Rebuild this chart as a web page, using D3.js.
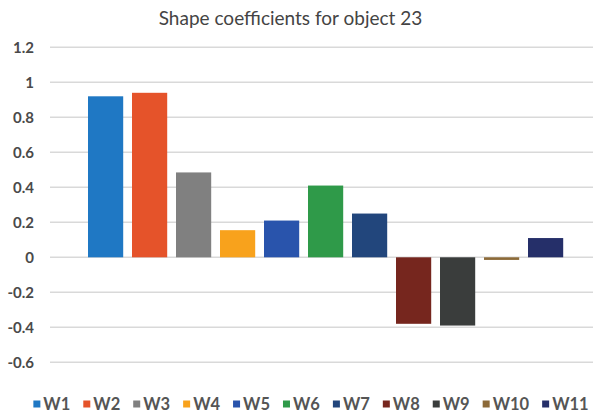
<!DOCTYPE html>
<html>
<head>
<meta charset="utf-8">
<script src="https://cdn.jsdelivr.net/npm/d3@7"></script>
<style>
  html, body { margin: 0; padding: 0; background: #ffffff; }
  svg { display: block; }
</style>
</head>
<body>
<svg id="chart" width="593" height="415"></svg>
<script>
const categories = ["W1", "W2", "W3", "W4", "W5", "W6", "W7", "W8", "W9", "W10", "W11"];
const values = [0.92, 0.94, 0.485, 0.155, 0.21, 0.41, 0.25, -0.38, -0.39, -0.015, 0.11];
const colors = ["#1f78c4", "#e5532a", "#808080", "#f8a21c", "#2954ac", "#2f9a49", "#22467c", "#76261e", "#3a3d3c", "#8c6a38", "#252f69"];
const yTicks = [1.2, 1, 0.8, 0.6, 0.4, 0.2, 0, -0.2, -0.4, -0.6];
const titleText = "Shape coefficients for object 23";

const svg = d3.select("#chart");
const W = 593, H = 415;
const FONT = "Lato, 'Open Sans', 'Liberation Sans', sans-serif";

svg.append("rect").attr("width", W).attr("height", H).attr("fill", "#fff");

const y = d3.scaleLinear().domain([-0.6, 1.2]).range([362.3, 47.3]);
const x = d3.scaleBand().domain(categories).range([83.6, 567.6]).paddingInner(0.2).paddingOuter(0.1);

// gridlines
svg.append("g")
  .selectAll("line")
  .data(yTicks)
  .join("line")
  .attr("x1", 50).attr("x2", W)
  .attr("y1", d => y(d)).attr("y2", d => y(d))
  .attr("stroke", "#d9d9d9")
  .attr("stroke-width", 1.5);

// y axis labels
const yAxis = d3.axisLeft(y).tickValues(yTicks).tickSize(0).tickPadding(0).tickFormat(d => String(d));
const gy = svg.append("g").attr("transform", "translate(34,0)").call(yAxis);
gy.select(".domain").remove();
gy.selectAll("text")
  .attr("font-family", FONT)
  .attr("font-size", 15)
  .attr("font-weight", 700)
  .attr("fill", "#4a4a4a")
  .attr("dy", "0.35em");

// bars
svg.append("g")
  .selectAll("rect")
  .data(categories)
  .join("rect")
  .attr("x", d => x(d))
  .attr("width", x.bandwidth())
  .attr("y", (d, i) => Math.min(y(values[i]), y(0)))
  .attr("height", (d, i) => Math.abs(y(values[i]) - y(0)))
  .attr("fill", (d, i) => colors[i]);

// title
svg.append("text")
  .attr("x", 290.5)
  .attr("y", 25)
  .attr("text-anchor", "middle")
  .attr("font-family", FONT)
  .attr("font-size", 19)
  .attr("fill", "#444")
  .text(titleText);

// legend
const legend = svg.append("g");
const sq = 7, gapSq = 3, gapItem = 13, legY = 404;
const items = legend.selectAll("g").data(categories).join("g");
items.append("rect")
  .attr("width", sq).attr("height", sq)
  .attr("y", legY - sq / 2)
  .attr("fill", (d, i) => colors[i]);
items.append("text")
  .attr("x", sq + gapSq)
  .attr("y", legY)
  .attr("dy", "0.35em")
  .attr("font-family", FONT)
  .attr("font-size", 16.5)
  .attr("font-weight", 700)
  .attr("fill", "#555")
  .text(d => d);
let cx = 0;
const offsets = [];
items.each(function () {
  offsets.push(cx);
  const tw = d3.select(this).select("text").node().getComputedTextLength();
  cx += sq + gapSq + tw + gapItem;
});
const total = cx - gapItem;
const startX = 311 - total / 2;
items.attr("transform", (d, i) => `translate(${startX + offsets[i]},0)`);
</script>
</body>
</html>
